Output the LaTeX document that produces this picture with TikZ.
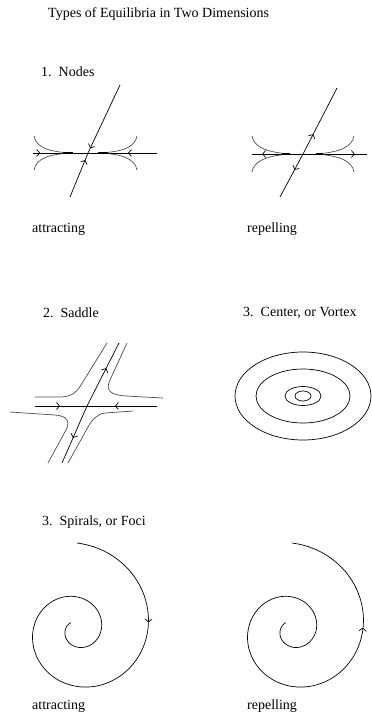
\documentclass[tikz,border=0pt]{standalone}
\usepackage{fontspec}
\setmainfont{Liberation Serif}
\usetikzlibrary{arrows.meta,decorations.markings}

\begin{document}
\begin{tikzpicture}[
    x=1pt, y=-1pt,
    font=\fontsize{14}{16}\selectfont,
    declare function={spr(\t)=87-19*(\t/100)+1.12*(\t/100)*(\t/100);},
    traj/.style={line width=0.7pt},
    flow/.style={line width=0.7pt, black!70},
    merge/.style={line width=1.8pt},
    lbl/.style={anchor=west, inner sep=0pt},
    barb/.tip={Straight Barb[length=3pt,width=7pt]},
    chev/.style={postaction={decorate}, decoration={markings,
        mark=at position #1 with {\arrow{barb}}}}
]
\useasboundingbox (0,0) rectangle (372,715);

% ===== Titles =====
\node[lbl] (title) at (48,14) {Types of Equilibria in Two Dimensions};
\node[lbl] (nodeslbl) at (41,72) {1.\ \ Nodes};
\node[lbl] (saddlelbl) at (43,313) {2.\ \ Saddle};
\node[lbl] (centerlbl) at (243,313) {3.\ \ Center, or Vortex};
\node[lbl] (spirallbl) at (42,522) {3.\ \ Spirals, or Foci};

% ===== Nodes: attracting =====
\coordinate (na) at (88,153);
\draw[traj, chev=0.13] (33,153) -- (na);
\draw[traj, chev=0.42] (157,153) -- (na);
\draw[traj, chev=0.93] (120,85) -- (na);
\draw[traj, chev=0.84] (70,197) -- (na);
\draw[flow] (34,136) .. controls (36,147) and (48,152) .. (72,153);
\draw[flow] (34,170) .. controls (36,159) and (48,154) .. (72,153);
\draw[flow] (137,136) .. controls (135,147) and (123,152) .. (99,153);
\draw[flow] (137,170) .. controls (135,159) and (123,154) .. (99,153);
\draw[merge] (63,153) -- (73,153);
\draw[merge] (98,153) -- (108,153);
\node[lbl] (attrA) at (32,229) {attracting};

% ===== Nodes: repelling =====
\coordinate (nr) at (303,154);
\draw[traj, chev=0.8] (nr) -- (252,154);
\draw[traj, chev=0.81] (nr) -- (367,154);
\draw[traj, chev=0.3] (nr) -- (337,88);
\draw[traj, chev=0.37] (nr) -- (280,197);
\draw[flow] (252,136) .. controls (254,147) and (266,152) .. (289,154);
\draw[flow] (252,172) .. controls (254,161) and (266,156) .. (289,154);
\draw[flow] (354,136) .. controls (352,147) and (340,152) .. (317,154);
\draw[flow] (354,172) .. controls (352,161) and (340,156) .. (317,154);
\draw[merge] (282,154) -- (290,154);
\draw[merge] (316,154) -- (323,154);
\node[lbl] (repA) at (247,229) {repelling};

% ===== Saddle =====
\coordinate (sd) at (87,406);
\draw[traj, chev=0.48] (35,406) -- (sd);
\draw[traj, chev=0.6] (157,406) -- (sd);
\draw[traj, chev=0.6] (sd) -- (119,343);
\draw[traj, chev=0.56] (sd) -- (62,463);
\draw[flow] (107,343) -- (81,385) .. controls (75,395) and (69,397) .. (58,397) -- (35,397);
\draw[flow] (127,343) -- (110,380) .. controls (105,391) and (111,395) .. (126,396) -- (163,398);
\draw[flow] (10,412) -- (55,415) .. controls (68,416) and (70,422) .. (66,430) -- (48,463);
\draw[flow] (133,411) -- (105,413) .. controls (97,414) and (92,420) .. (88,427) -- (68,463);

% ===== Center =====
\coordinate (ct) at (303,396);
\foreach \rx/\ry in {68/44, 47/27, 18/9.5, 8/5}
    \draw[traj] (ct) ellipse[x radius=\rx, y radius=\ry];

% ===== Spirals =====
\draw[traj, -barb] plot[domain=0:84, samples=30, smooth]
    ({77+spr(\x)*cos(\x-90)}, {630+spr(\x)*sin(\x-90)});
\draw[traj] plot[domain=84:680, samples=150, smooth]
    ({77+spr(\x)*cos(\x-90)}, {630+spr(\x)*sin(\x-90)});
\draw[traj] plot[domain=0:88, samples=30, smooth]
    ({292+spr(\x)*cos(\x-90)}, {630+spr(\x)*sin(\x-90)});
\draw[traj, barb-] plot[domain=88:680, samples=150, smooth]
    ({292+spr(\x)*cos(\x-90)}, {630+spr(\x)*sin(\x-90)});
\node[lbl] (attrB) at (32,706) {attracting};
\node[lbl] (repB) at (247,706) {repelling};

\end{tikzpicture}
\end{document}
